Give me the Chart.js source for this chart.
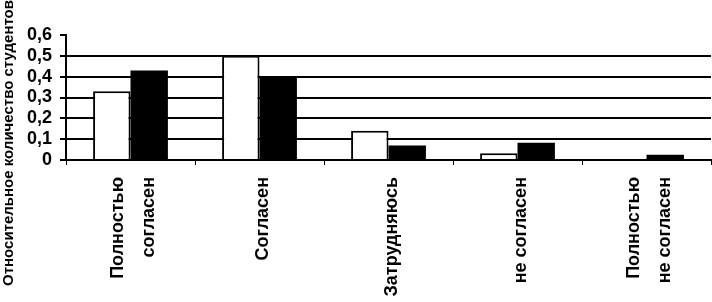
<!DOCTYPE html>
<html>
<head>
<meta charset="utf-8">
<script src="https://cdn.jsdelivr.net/npm/chart.js"></script>
<style>
    body { margin: 0; background: #fff; }
    #wrap { width: 712px; height: 302px; }
</style>
</head>
<body>
<div id="wrap"><canvas id="myChart" width="712" height="302"></canvas></div>
<script>
const categories = [
    ['Полностью', 'согласен'],
    'Согласен',
    'Затрудняюсь',
    'не согласен',
    ['Полностью', 'не согласен']
];
const whiteValues = [0.33, 0.5, 0.14, 0.033, 0];
const blackValues = [0.43, 0.4, 0.07, 0.083, 0.025];
const yTickLabels = ['0', '0,1', '0,2', '0,3', '0,4', '0,5', '0,6'];
const yTitle = 'Относительное количество студентов';

const FONT = "'Liberation Sans', Arial, sans-serif";

// подпись оси Y рисуем сами, чтобы поставить её как в оригинале
const yTitlePlugin = {
    id: 'yTitle',
    afterDraw(chart) {
        const c = chart.ctx;
        c.save();
        c.translate(9, 143);
        c.rotate(-Math.PI / 2);
        c.font = 'bold 15px ' + FONT;
        c.fillStyle = '#000';
        c.textAlign = 'center';
        c.textBaseline = 'middle';
        c.fillText(yTitle, 0, 0);
        c.restore();
    }
};

const ctx = document.getElementById('myChart').getContext('2d');
const chart = new Chart(ctx, {
    type: 'bar',
    data: {
        labels: categories,
        datasets: [
            {
                data: whiteValues,
                backgroundColor: '#fff',
                borderColor: '#000',
                borderWidth: 2,
                categoryPercentage: 0.58,
                barPercentage: 1
            },
            {
                data: blackValues,
                backgroundColor: '#000',
                borderWidth: 0,
                categoryPercentage: 0.58,
                barPercentage: 1
            }
        ]
    },
    options: {
        responsive: false,
        animation: false,
        layout: { padding: { top: 35, right: 1, left: 0, bottom: 0 } },
        plugins: {
            legend: { display: false },
            tooltip: { enabled: false }
        },
        scales: {
            x: {
                afterFit: (axis) => {
                    axis.height = 142;
                    axis.paddingLeft = 0;
                    axis.paddingRight = 0;
                },
                border: { color: '#000', width: 2, z: 1 },
                grid: {
                    drawOnChartArea: false,
                    tickColor: '#000',
                    tickWidth: 1,
                    tickLength: 5
                },
                ticks: {
                    autoSkip: false,
                    minRotation: 90,
                    maxRotation: 90,
                    padding: 12,
                    labelOffset: -12,
                    color: '#000',
                    // однострочные подписи: пустая первая строка, чтобы текст стоял по центру
                    callback: (v, i) => Array.isArray(categories[i]) ? categories[i] : ['', categories[i]],
                    font: (c) => ({
                        family: FONT,
                        size: 18,
                        weight: 'bold',
                        lineHeight: Array.isArray(categories[c.index]) ? 1.67 : 0.89
                    })
                }
            },
            y: {
                min: 0,
                max: 0.6,
                afterFit: (axis) => {
                    axis.width = 66;
                    axis.paddingTop = 0;
                    axis.paddingBottom = 0;
                },
                border: { color: '#000', width: 2 },
                grid: {
                    color: (c) => (c.tick && c.tick.value >= 0.6) ? 'rgba(0,0,0,0)' : '#000',
                    tickColor: '#000',
                    lineWidth: 2,
                    tickWidth: 2,
                    tickLength: 6
                },
                ticks: {
                    autoSkip: false,
                    stepSize: 0.1,
                    padding: 8,
                    color: '#000',
                    font: { family: FONT, size: 18, weight: 'bold' },
                    callback: (v, i) => yTickLabels[i]
                }
            }
        }
    },
    plugins: [yTitlePlugin]
});
</script>
</body>
</html>
